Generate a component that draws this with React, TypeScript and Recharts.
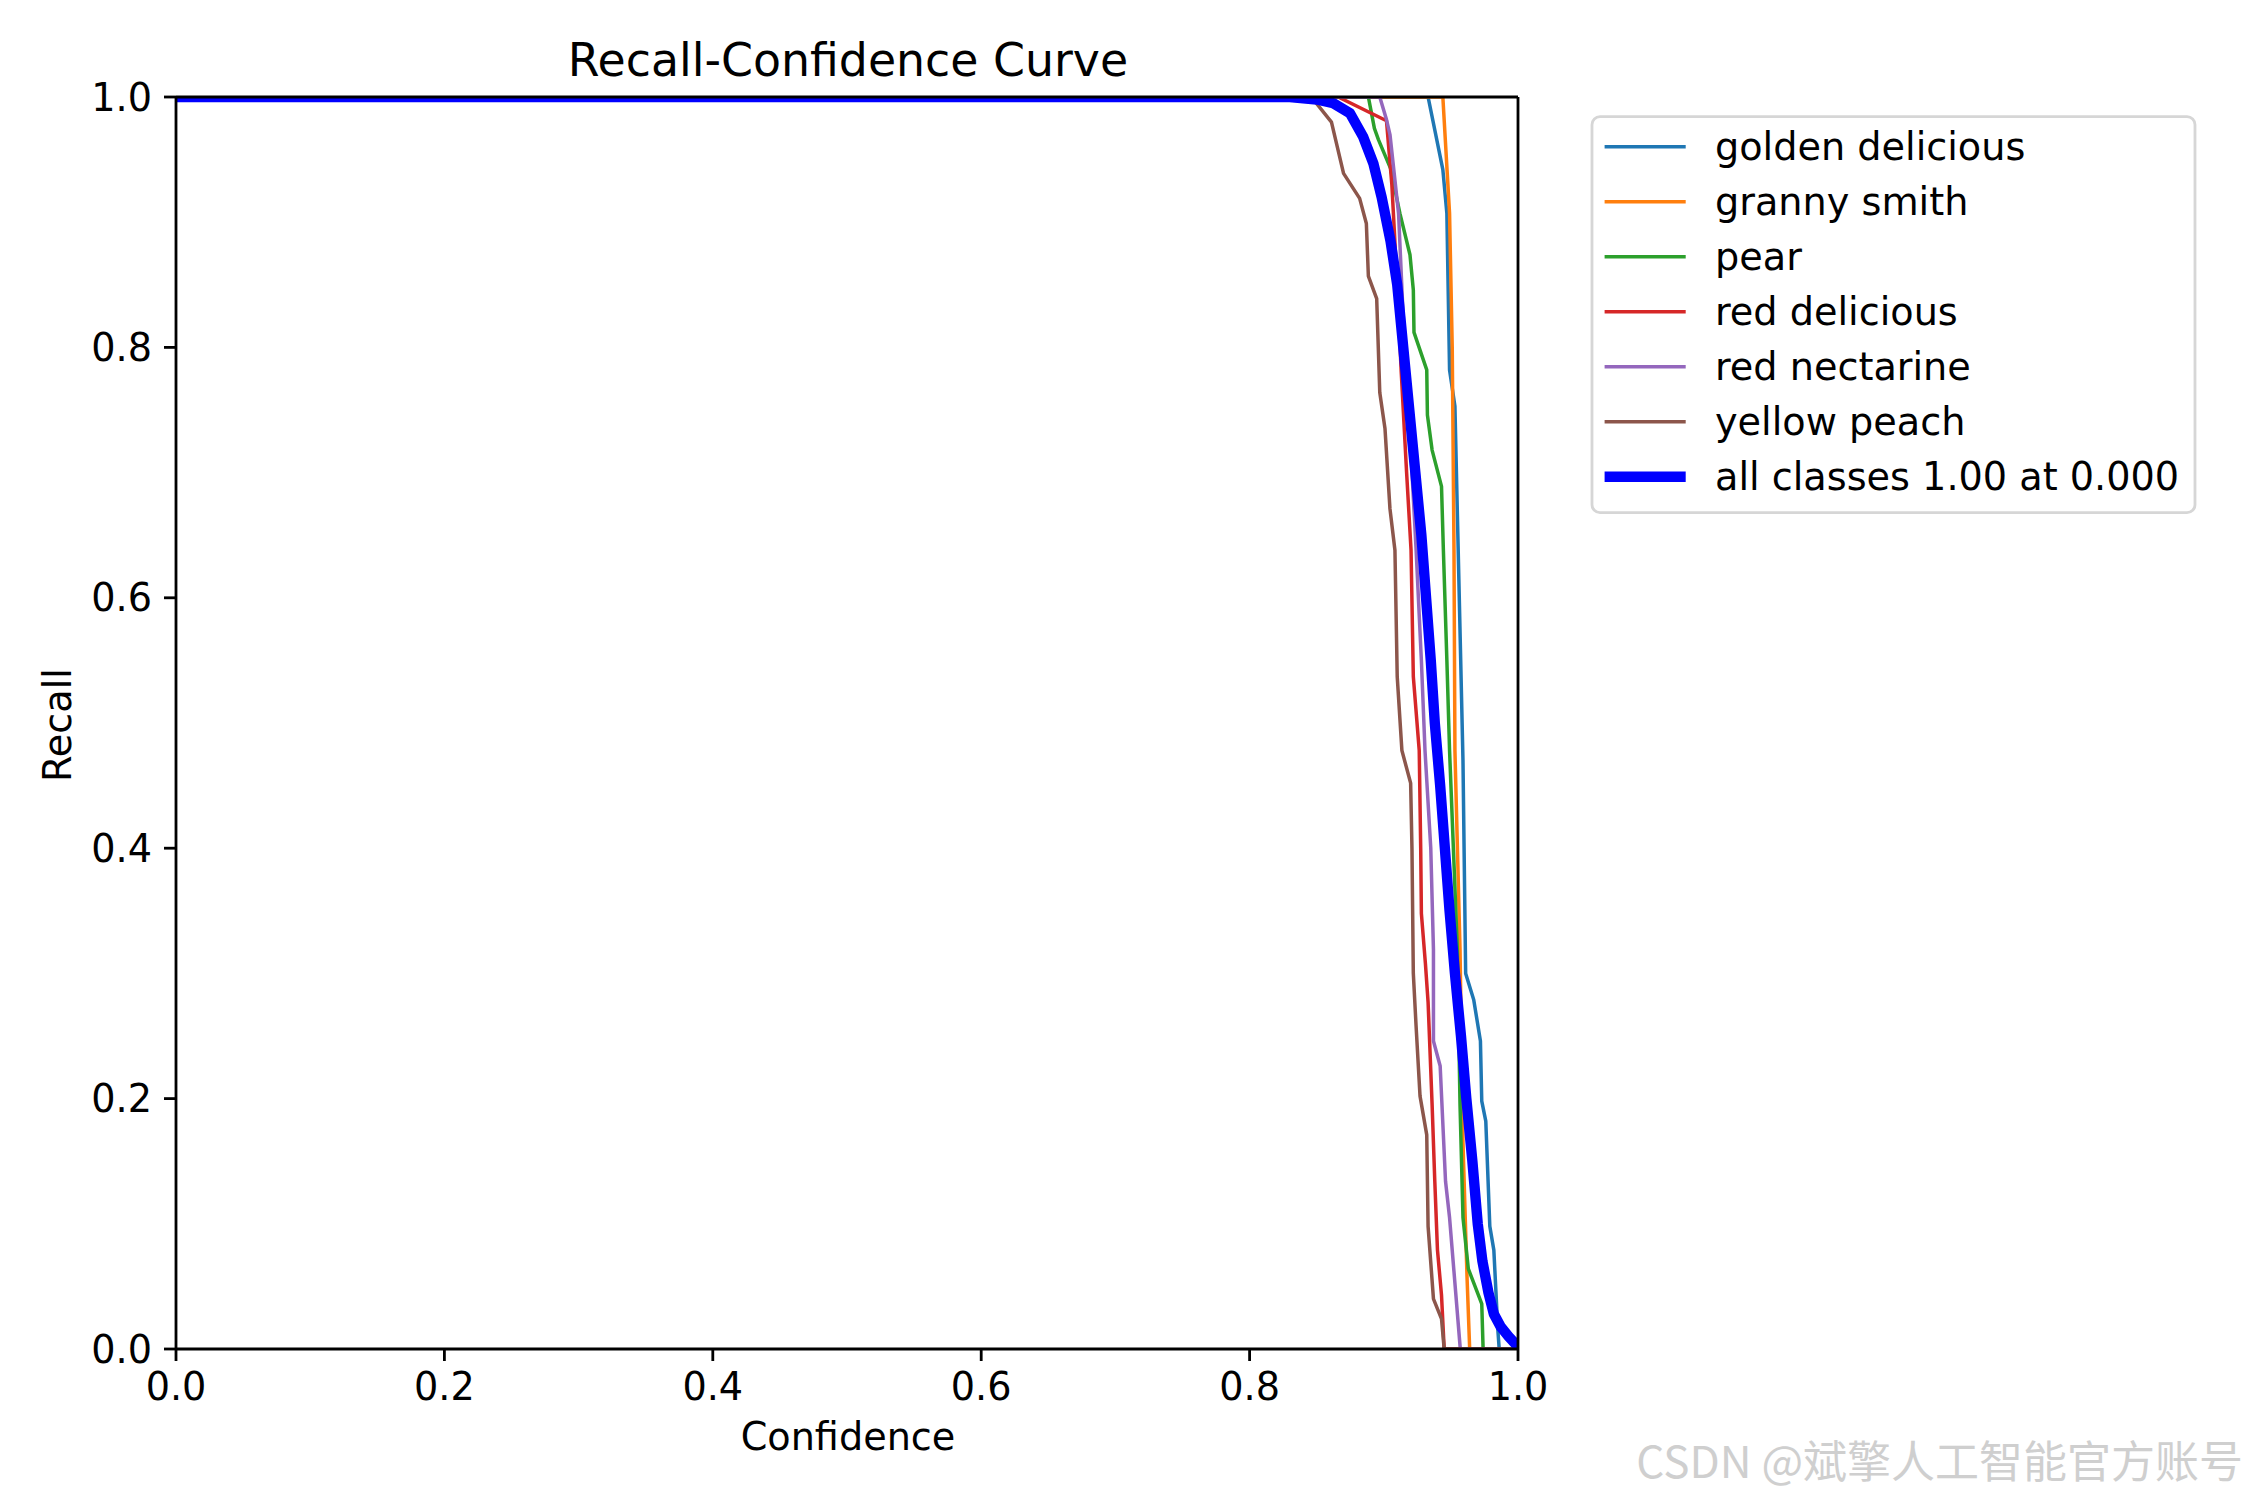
import { LineChart, Line, XAxis, YAxis, ReferenceLine } from 'recharts'

const FONT = '"DejaVu Sans", sans-serif'

const confTicks = [0, 0.2, 0.4, 0.6, 0.8, 1.0]
const recallTicks = [0, 0.2, 0.4, 0.6, 0.8, 1.0]

// [confidence, recall] pairs
const goldenDelicious = [
  [0, 1], [0.933, 1], [0.944, 0.942], [0.947, 0.907], [0.949, 0.782], [0.953, 0.753],
  [0.959, 0.47], [0.961, 0.3], [0.967, 0.279], [0.972, 0.246], [0.973, 0.198], [0.976, 0.182],
  [0.979, 0.098], [0.982, 0.079], [0.985, 0.015], [0.986, 0], [1, 0],
]

const grannySmith = [
  [0, 1], [0.944, 1], [0.949, 0.907], [0.951, 0.8], [0.9523, 0.638], [0.953, 0.478],
  [0.9568, 0.319], [0.959, 0.165], [0.962, 0.058], [0.964, 0], [1, 0],
]

const pear = [
  [0, 1], [0.8885, 1], [0.893, 0.975], [0.896, 0.966], [0.905, 0.943], [0.912, 0.907],
  [0.9195, 0.874], [0.922, 0.846], [0.9225, 0.812], [0.932, 0.782], [0.9325, 0.746],
  [0.936, 0.718], [0.943, 0.689], [0.9444, 0.638], [0.947, 0.55], [0.949, 0.478],
  [0.9548, 0.319], [0.9568, 0.195], [0.959, 0.105], [0.963, 0.064], [0.973, 0.036],
  [0.974, 0], [1, 0],
]

const redDelicious = [
  [0, 1], [0.866, 1], [0.902, 0.981], [0.906, 0.93], [0.91, 0.85], [0.913, 0.78],
  [0.917, 0.7], [0.9203, 0.638], [0.922, 0.537], [0.9264, 0.478], [0.9275, 0.4],
  [0.928, 0.348], [0.931, 0.308], [0.933, 0.277], [0.936, 0.195], [0.938, 0.134],
  [0.94, 0.079], [0.943, 0.043], [0.945, 0], [1, 0],
]

const redNectarine = [
  [0, 1], [0.897, 1], [0.902, 0.982], [0.9046, 0.97], [0.911, 0.907], [0.914, 0.835],
  [0.919, 0.74], [0.924, 0.64], [0.928, 0.55], [0.9307, 0.478], [0.935, 0.4],
  [0.937, 0.319], [0.937, 0.246], [0.942, 0.226], [0.946, 0.134], [0.949, 0.105],
  [0.957, 0], [1, 0],
]

const yellowPeach = [
  [0, 1], [0.846, 1], [0.861, 0.98], [0.870, 0.939], [0.882, 0.919], [0.887, 0.899],
  [0.8885, 0.857], [0.8947, 0.839], [0.897, 0.764], [0.9009, 0.735], [0.9046, 0.671],
  [0.9083, 0.638], [0.91, 0.537], [0.9135, 0.478], [0.92, 0.452], [0.921, 0.399],
  [0.922, 0.3], [0.924, 0.259], [0.927, 0.202], [0.932, 0.171], [0.933, 0.098],
  [0.937, 0.04], [0.943, 0.024], [0.945, 0], [1, 0],
]

const allClasses = [
  [0, 1], [0.83, 1], [0.85, 0.998], [0.8624, 0.995], [0.8748, 0.987], [0.8847, 0.968],
  [0.8922, 0.947], [0.8984, 0.92], [0.905, 0.885], [0.91, 0.85],
  [0.9145, 0.8], [0.919, 0.75], [0.9235, 0.7], [0.928, 0.65], [0.9315, 0.6],
  [0.935, 0.55], [0.938, 0.5], [0.942, 0.45], [0.9455, 0.4], [0.949, 0.35],
  [0.953, 0.3], [0.9575, 0.25], [0.9615, 0.2], [0.966, 0.15], [0.97, 0.1],
  [0.9735, 0.07], [0.978, 0.045], [0.982, 0.028], [0.987, 0.018], [0.993, 0.01],
  [0.999, 0.003], [1, 0],
]

const series = [
  { name: 'golden delicious', color: '#1f77b4', points: goldenDelicious, width: 3.5 },
  { name: 'granny smith', color: '#ff7f0e', points: grannySmith, width: 3.5 },
  { name: 'pear', color: '#2ca02c', points: pear, width: 3.5 },
  { name: 'red delicious', color: '#d62728', points: redDelicious, width: 3.5 },
  { name: 'red nectarine', color: '#9467bd', points: redNectarine, width: 3.5 },
  { name: 'yellow peach', color: '#8c564b', points: yellowPeach, width: 3.5 },
  { name: 'all classes 1.00 at 0.000', color: '#0000ff', points: allClasses, width: 10.4 },
]

const toRows = (pairs: number[][]) => pairs.map(([conf, recall]) => ({ conf, recall }))

const tickStyle = { fontSize: 38.2, fill: '#000', fontFamily: FONT }
const axisStroke = { stroke: '#000', strokeWidth: 2.8 }

function Overlay() {
  return (
    <svg
      width={2250}
      height={1500}
      style={{ position: 'absolute', left: 0, top: 0, pointerEvents: 'none' }}
      fontFamily={FONT}
    >
      <text x={848} y={76} fontSize={45.8} textAnchor="middle" fill="#000">
        Recall-Confidence Curve
      </text>
      <text x={848} y={1450} fontSize={38.2} textAnchor="middle" fill="#000">
        Confidence
      </text>
      <text x={71} y={725} fontSize={38.2} textAnchor="middle" fill="#000" transform="rotate(-90 71 725)">
        Recall
      </text>

      {/* legend */}
      <rect x={1592} y={116.7} width={603} height={396} rx={8} fill="#fff" stroke="#d6d6d6" strokeWidth={2.8} />
      {series.map((s, i) => {
        const cy = 146.7 + 55 * i
        return (
          <g key={s.name}>
            <line x1={1604.6} x2={1685.7} y1={cy} y2={cy} stroke={s.color} strokeWidth={s.width} />
            <text x={1715} y={cy + 13.5} fontSize={38.2} fill="#000">
              {s.name}
            </text>
          </g>
        )
      })}

      <text
        x={2243}
        y={1478}
        fontSize={44}
        textAnchor="end"
        fill="#cfcfcf"
        fontFamily='"Noto Sans CJK SC", sans-serif'
      >
        CSDN @斌擎人工智能官方账号
      </text>
    </svg>
  )
}

export default function App() {
  return (
    <div style={{ position: 'absolute', left: 0, top: 0, width: 2250, height: 1500, background: '#fff' }}>
      <LineChart width={2250} height={1500} margin={{ top: 97, right: 732, left: 0, bottom: 0 }}>
        <XAxis
          type="number"
          dataKey="conf"
          domain={[0, 1]}
          ticks={confTicks}
          interval={0}
          allowDataOverflow
          tickFormatter={(v: number) => v.toFixed(1)}
          height={151}
          tick={tickStyle}
          tickSize={12}
          tickMargin={12}
          axisLine={axisStroke}
          tickLine={axisStroke}
        />
        <YAxis
          type="number"
          domain={[0, 1]}
          ticks={recallTicks}
          interval={0}
          allowDataOverflow
          tickFormatter={(v: number) => v.toFixed(1)}
          width={176}
          tick={tickStyle}
          tickSize={12}
          tickMargin={12}
          axisLine={axisStroke}
          tickLine={axisStroke}
        />
        {series.map((s) => (
          <Line
            key={s.name}
            name={s.name}
            data={toRows(s.points)}
            dataKey="recall"
            type="linear"
            stroke={s.color}
            strokeWidth={s.width}
            strokeLinejoin="round"
            dot={false}
            activeDot={false}
            isAnimationActive={false}
          />
        ))}
        <ReferenceLine y={1} stroke="#000" strokeWidth={2.8} />
        <ReferenceLine x={1} stroke="#000" strokeWidth={2.8} />
      </LineChart>
      <Overlay />
    </div>
  )
}
